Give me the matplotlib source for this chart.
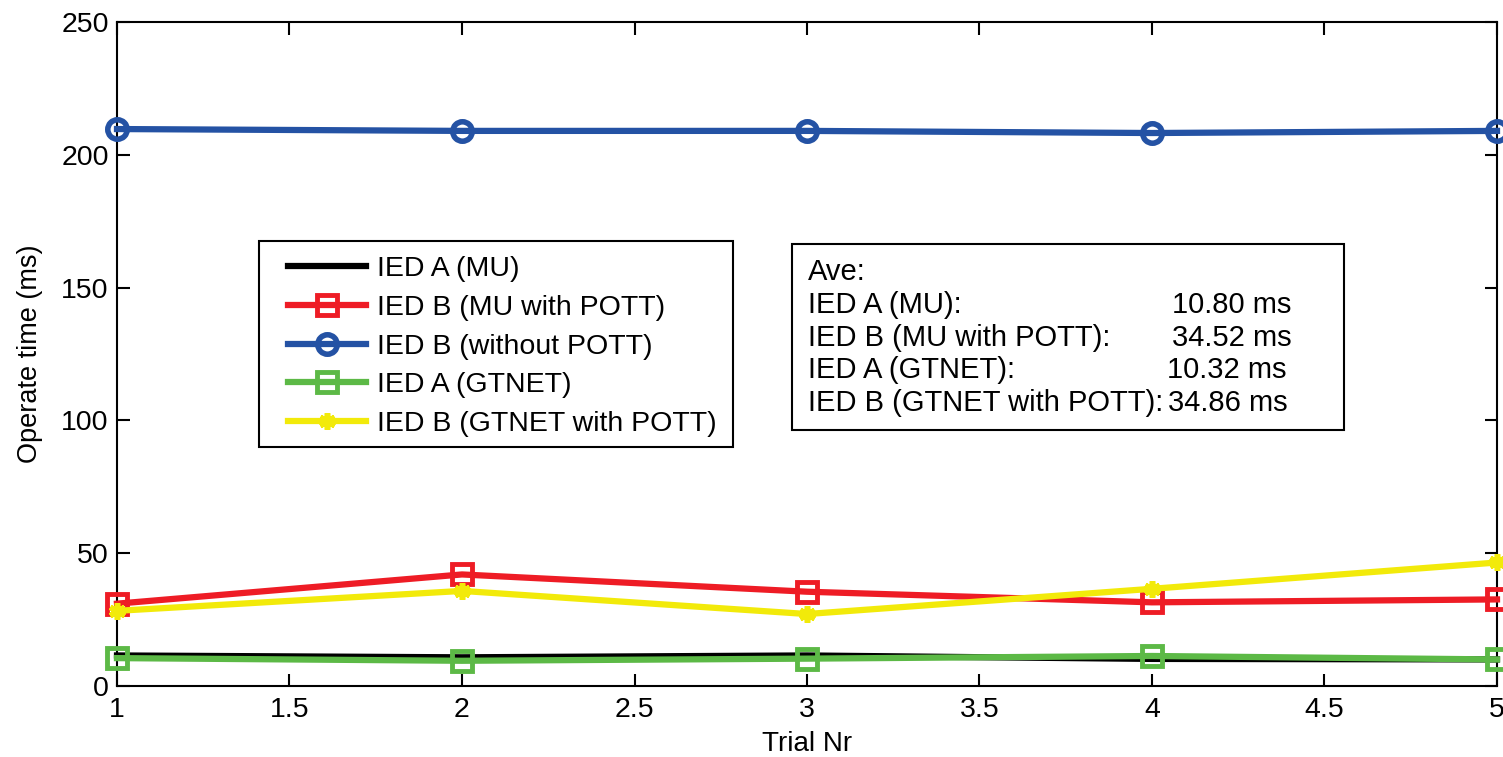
import matplotlib
matplotlib.use("Agg")
import matplotlib.pyplot as plt
from matplotlib.patches import Rectangle

plt.rcParams['font.family'] = ['Liberation Sans', 'DejaVu Sans']

trials = [1, 2, 3, 4, 5]
ied_a_mu = [11.5, 10.8, 11.5, 10.2, 10.0]
ied_b_mu_pott = [31.0, 42.0, 35.5, 31.5, 32.6]
ied_b_without_pott = [209.7, 209.0, 209.0, 208.2, 209.0]
ied_a_gtnet = [10.5, 9.5, 10.3, 11.3, 10.0]
ied_b_gtnet_pott = [28.3, 35.8, 27.1, 36.6, 46.5]

labels = ["IED A (MU)", "IED B (MU with POTT)", "IED B (without POTT)",
          "IED A (GTNET)", "IED B (GTNET with POTT)"]
ave_labels = ["IED A (MU):", "IED B (MU with POTT):", "IED A (GTNET):",
              "IED B (GTNET with POTT):"]
ave_values = ["10.80 ms", "34.52 ms", "10.32 ms", "34.86 ms"]

W, H = 1503, 757
fig = plt.figure(figsize=(W / 100, H / 100), dpi=100)
L, R, T, B = 117, 1497, 22, 686
ax = fig.add_axes([L / W, 1 - B / H, (R - L) / W, (B - T) / H])

red = '#EE1C25'
blue = '#2452A4'
green = '#5CB946'
yellow = '#F2EA0A'
lw = 4.5
ms = 14
mew = 3.5

ax.plot(trials, ied_a_mu, color='black', lw=lw, label=labels[0], clip_on=False, zorder=3)
ax.plot(trials, ied_b_mu_pott, color=red, lw=lw, marker='s', ms=ms, mew=mew,
        mfc='none', label=labels[1], clip_on=False, zorder=4)
ax.plot(trials, ied_b_without_pott, color=blue, lw=lw, marker='o', ms=ms, mew=mew + 0.5,
        mfc='none', label=labels[2], clip_on=False, zorder=4)
ax.plot(trials, ied_a_gtnet, color=green, lw=lw, marker='s', ms=ms, mew=mew,
        mfc='none', label=labels[3], clip_on=False, zorder=5)
ax.plot(trials, ied_b_gtnet_pott, color=yellow, lw=lw, marker=(6, 2, 0), ms=12, mew=4,
        label=labels[4], clip_on=False, zorder=6)

ax.set_xlim(1, 5)
ax.set_ylim(0, 250)
ax.set_xticks([1, 1.5, 2, 2.5, 3, 3.5, 4, 4.5, 5])
ax.set_xticklabels(['1', '1.5', '2', '2.5', '3', '3.5', '4', '4.5', '5'])
ax.set_yticks([0, 50, 100, 150, 200, 250])
ax.tick_params(direction='in', top=True, right=True, length=9, width=1.5,
               labelsize=20.5, colors='black')
ax.tick_params(axis='y', pad=6)
ax.tick_params(axis='x', pad=8)
for s in ax.spines.values():
    s.set_linewidth(1.5)
ax.set_xlabel('Trial Nr', fontsize=20, labelpad=6)
ax.set_ylabel('Operate time (ms)', fontsize=19.5, labelpad=13)

# Legend (frame drawn separately)
fig.patches.append(Rectangle((259 / W, 1 - 447 / H), (733 - 259) / W, (447 - 241) / H,
                             transform=fig.transFigure, facecolor='white',
                             edgecolor='black', lw=1.5, zorder=10))
leg = fig.legend(loc='upper left', bbox_to_anchor=(288 / W, 1 - 256 / H),
                 borderaxespad=0, borderpad=0, fontsize=20.5, handlelength=2.75,
                 handletextpad=0.38, labelspacing=0.45, frameon=False)
leg.set_zorder(11)

# Averages box
fig.patches.append(Rectangle((792 / W, 1 - 430 / H), (1344 - 792) / W, (430 - 244) / H,
                             transform=fig.transFigure, facecolor='white',
                             edgecolor='black', lw=1.5, zorder=10))
ys = [272, 305, 338, 370, 403]
fs = 21
fig.text(808 / W, 1 - ys[0] / H, "Ave:", fontsize=fs, va='center', ha='left', zorder=11)
val_x = [1172, 1172, 1167, 1168]
for i in range(4):
    fig.text(808 / W, 1 - ys[i + 1] / H, ave_labels[i], fontsize=fs, va='center',
             ha='left', zorder=11)
    fig.text(val_x[i] / W, 1 - ys[i + 1] / H, ave_values[i], fontsize=fs, va='center',
             ha='left', zorder=11)

fig.savefig('out.png', dpi=100)
